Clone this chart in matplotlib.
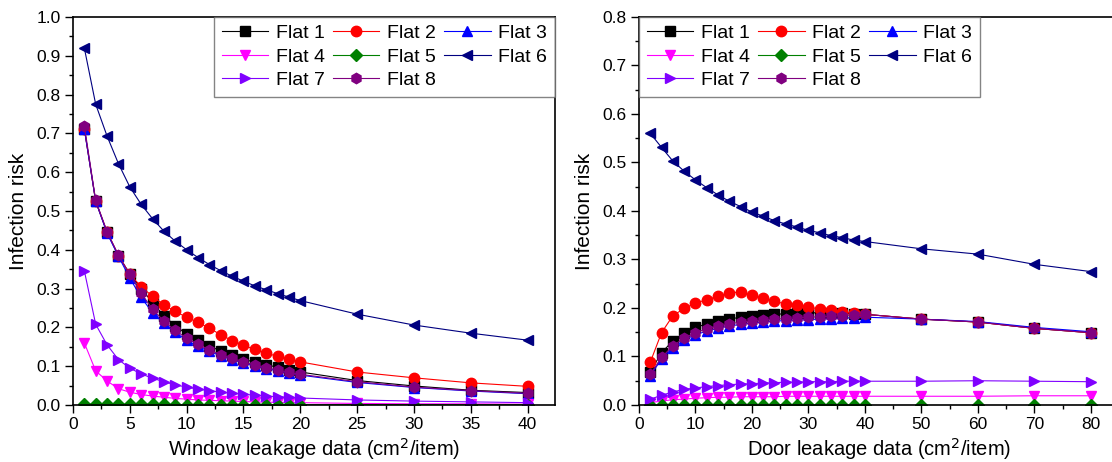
import numpy as np
import matplotlib
matplotlib.use("Agg")
import matplotlib.pyplot as plt
from matplotlib.ticker import MultipleLocator, FormatStrFormatter

plt.rcParams['font.family'] = ['Liberation Sans', 'DejaVu Sans']

labels = ["Flat 1", "Flat 2", "Flat 3", "Flat 4", "Flat 5", "Flat 6", "Flat 7", "Flat 8"]
colors = ["#000000", "#FF0000", "#0000FF", "#FF00FF", "#008000", "#000080", "#8000FF", "#800080"]
markers = ["s", "o", "^", "v", "D", "<", ">", "h"]

# Window leakage (left panel)
window_x = [1, 2, 3, 4, 5, 6, 7, 8, 9, 10, 11, 12, 13, 14, 15, 16, 17, 18, 19, 20, 25, 30, 35, 40]
window_flat1 = [0.712, 0.525, 0.445, 0.385, 0.337, 0.300, 0.264, 0.230, 0.204, 0.183, 0.167, 0.152,
                0.139, 0.128, 0.118, 0.110, 0.104, 0.097, 0.091, 0.085, 0.063, 0.049, 0.038, 0.032]
window_flat2 = [0.712, 0.525, 0.445, 0.385, 0.337, 0.305, 0.280, 0.258, 0.241, 0.226, 0.213, 0.198,
                0.181, 0.166, 0.154, 0.143, 0.134, 0.125, 0.118, 0.111, 0.085, 0.070, 0.057, 0.048]
window_flat3 = [0.712, 0.525, 0.443, 0.383, 0.327, 0.277, 0.238, 0.210, 0.187, 0.167, 0.151, 0.138,
                0.127, 0.117, 0.108, 0.100, 0.094, 0.088, 0.082, 0.077, 0.058, 0.045, 0.036, 0.029]
window_flat4 = [0.160, 0.088, 0.062, 0.042, 0.033, 0.027, 0.023, 0.020, 0.017, 0.015, 0.013, 0.012,
                0.011, 0.010, 0.009, 0.008, 0.007, 0.007, 0.006, 0.006, 0.004, 0.003, 0.003, 0.002]
window_flat5 = [0.002, 0.002, 0.002, 0.002, 0.002, 0.002, 0.002, 0.002, 0.001, 0.001, 0.001, 0.001,
                0.001, 0.001, 0.001, 0.001, 0.001, 0.001, 0.001, 0.001, 0.001, 0.001, 0.001, 0.001]
window_flat6 = [0.920, 0.775, 0.693, 0.622, 0.562, 0.517, 0.480, 0.448, 0.422, 0.400, 0.380, 0.362,
                0.346, 0.332, 0.319, 0.307, 0.297, 0.287, 0.278, 0.269, 0.234, 0.206, 0.185, 0.167]
window_flat7 = [0.346, 0.208, 0.155, 0.117, 0.095, 0.080, 0.069, 0.060, 0.052, 0.046, 0.041, 0.037,
                0.033, 0.030, 0.028, 0.025, 0.023, 0.021, 0.020, 0.018, 0.013, 0.010, 0.008, 0.006]
window_flat8 = [0.720, 0.527, 0.447, 0.386, 0.337, 0.288, 0.247, 0.216, 0.192, 0.172, 0.156, 0.142,
                0.130, 0.120, 0.111, 0.103, 0.096, 0.090, 0.084, 0.079, 0.060, 0.046, 0.037, 0.030]

# Door leakage (right panel)
door_x = [2, 4, 6, 8, 10, 12, 14, 16, 18, 20, 22, 24, 26, 28, 30, 32, 34, 36, 38, 40, 50, 60, 70, 80]
door_flat1 = [0.068, 0.108, 0.132, 0.148, 0.160, 0.167, 0.173, 0.177, 0.181, 0.184, 0.186, 0.187,
              0.188, 0.190, 0.190, 0.190, 0.189, 0.189, 0.188, 0.187, 0.177, 0.171, 0.158, 0.149]
door_flat2 = [0.088, 0.149, 0.184, 0.199, 0.210, 0.217, 0.224, 0.231, 0.233, 0.226, 0.220, 0.214,
              0.208, 0.206, 0.202, 0.198, 0.195, 0.192, 0.189, 0.187, 0.177, 0.171, 0.158, 0.149]
door_flat3 = [0.060, 0.095, 0.118, 0.134, 0.145, 0.152, 0.158, 0.163, 0.166, 0.169, 0.171, 0.173,
              0.174, 0.175, 0.176, 0.177, 0.178, 0.179, 0.180, 0.181, 0.177, 0.172, 0.160, 0.151]
door_flat4 = [0.005, 0.008, 0.011, 0.012, 0.014, 0.015, 0.016, 0.016, 0.017, 0.017, 0.017, 0.017,
              0.018, 0.018, 0.018, 0.018, 0.018, 0.018, 0.018, 0.018, 0.018, 0.018, 0.019, 0.019]
door_flat5 = [0.001, 0.001, 0.001, 0.001, 0.001, 0.001, 0.001, 0.001, 0.001, 0.001, 0.001, 0.001,
              0.001, 0.001, 0.001, 0.001, 0.001, 0.001, 0.001, 0.001, 0.001, 0.001, 0.001, 0.001]
door_flat6 = [0.560, 0.531, 0.503, 0.482, 0.464, 0.448, 0.433, 0.420, 0.409, 0.398, 0.389, 0.380,
              0.373, 0.367, 0.360, 0.355, 0.349, 0.345, 0.340, 0.337, 0.322, 0.311, 0.290, 0.275]
door_flat7 = [0.012, 0.020, 0.027, 0.032, 0.035, 0.038, 0.040, 0.042, 0.043, 0.044, 0.045, 0.046,
              0.047, 0.047, 0.048, 0.048, 0.048, 0.049, 0.049, 0.049, 0.049, 0.050, 0.049, 0.048]
door_flat8 = [0.063, 0.098, 0.122, 0.138, 0.149, 0.157, 0.163, 0.167, 0.171, 0.173, 0.175, 0.177,
              0.178, 0.180, 0.181, 0.182, 0.183, 0.184, 0.186, 0.187, 0.177, 0.171, 0.158, 0.149]

window_series = [window_flat1, window_flat2, window_flat3, window_flat4,
                 window_flat5, window_flat6, window_flat7, window_flat8]
door_series = [door_flat1, door_flat2, door_flat3, door_flat4,
               door_flat5, door_flat6, door_flat7, door_flat8]


def draw_panel(ax, x, series):
    handles = []
    for y, lab, c, m in zip(series, labels, colors, markers):
        ms = 6 if m == "D" else 7.5
        h, = ax.plot(x, y, color=c, marker=m, markersize=ms, markeredgecolor=c,
                     markerfacecolor=c, linewidth=0.8, label=lab)
        handles.append(h)
    return handles


def style_axes(ax):
    for s in ax.spines.values():
        s.set_linewidth(1.2)
    ax.tick_params(which="major", direction="out", length=6, width=1.0, labelsize=12.5,
                   pad=3, top=False, right=False)
    ax.tick_params(which="minor", direction="out", length=3, width=1.0, top=False, right=False)
    ax.yaxis.set_minor_locator(MultipleLocator(0.05))
    ax.yaxis.set_major_locator(MultipleLocator(0.1))
    ax.yaxis.set_major_formatter(FormatStrFormatter("%.1f"))
    ax.set_ylabel("Infection risk", fontsize=15, labelpad=6)


def add_legend(ax, handles, loc):
    # matplotlib fills legend columns first; reorder so rows read Flat 1, 2, 3 ...
    order = [0, 3, 6, 1, 4, 7, 2, 5]
    leg = ax.legend([handles[i] for i in order], [labels[i] for i in order], loc=loc,
                    ncol=3, fontsize=14, frameon=True, fancybox=False, borderaxespad=0,
                    handlelength=2.4, handletextpad=0.4, columnspacing=0.4,
                    labelspacing=0.3, borderpad=0.4)
    leg.get_frame().set_edgecolor("#666666")
    leg.get_frame().set_linewidth(1.0)


fig = plt.figure(figsize=(11.12, 4.62), dpi=100)

ax1 = fig.add_axes([0.0656, 0.1234, 0.4335, 0.840])
h1 = draw_panel(ax1, window_x, window_series)
ax1.set_xlim(0, 42.4)
ax1.set_ylim(0, 1.0)
ax1.xaxis.set_major_locator(MultipleLocator(5))
ax1.xaxis.set_minor_locator(MultipleLocator(2.5))
style_axes(ax1)
ax1.set_xlabel("Window leakage data (cm$^2$/item)", fontsize=14.5, labelpad=2.5)
add_legend(ax1, h1, "upper right")

ax2 = fig.add_axes([0.5746, 0.1234, 0.4317, 0.840])
h2 = draw_panel(ax2, door_x, door_series)
ax2.set_xlim(0, 85)
ax2.set_ylim(0, 0.8)
ax2.xaxis.set_major_locator(MultipleLocator(10))
ax2.xaxis.set_minor_locator(MultipleLocator(5))
style_axes(ax2)
ax2.set_xlabel("Door leakage data (cm$^2$/item)", fontsize=14.5, labelpad=2.5)
add_legend(ax2, h2, "upper left")

fig.savefig("out.png", dpi=100)
